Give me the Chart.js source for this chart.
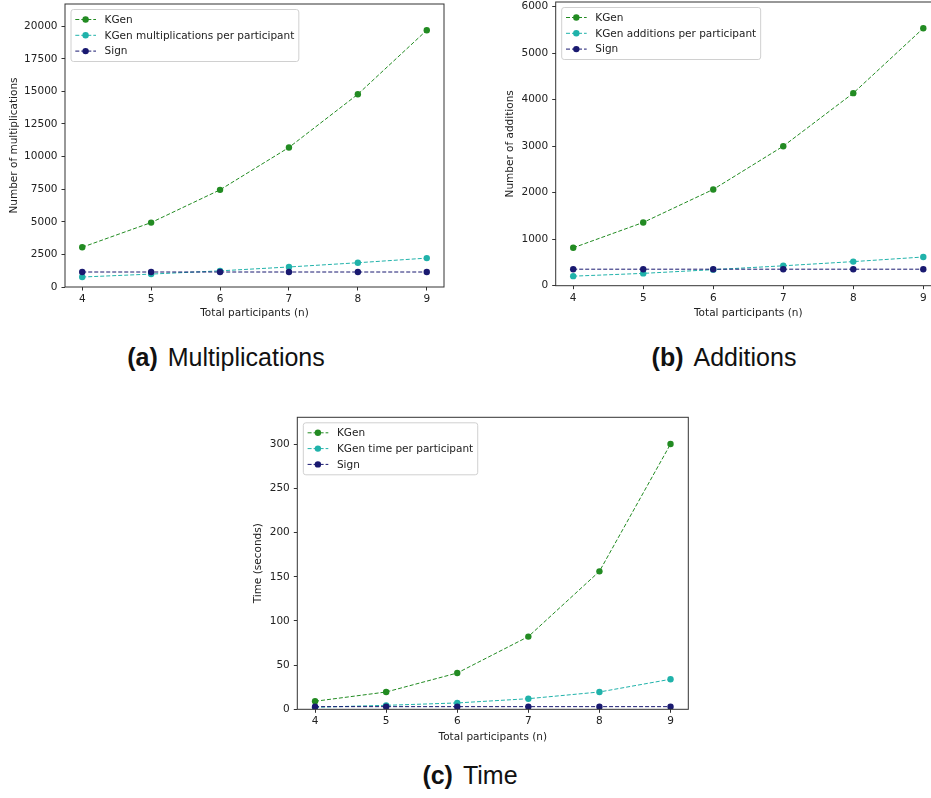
<!DOCTYPE html>
<html>
<head>
<meta charset="utf-8">
<script src="https://cdn.jsdelivr.net/npm/chart.js/dist/chart.umd.min.js"></script>
<style>
    html, body { margin: 0; padding: 0; background: #fff; overflow: hidden; width: 931px; height: 798px; }
    canvas { position: absolute; }
    .caption {
        position: absolute;
        width: 400px;
        text-align: center;
        font-family: "Liberation Sans", sans-serif;
        font-size: 25px;
        line-height: 25px;
        color: #111;
        white-space: nowrap;
    }
    .caption b { margin-right: 10px; }
</style>
</head>
<body>

<canvas id="chartMult" width="450" height="330" style="left:0px; top:0px;"></canvas>
<canvas id="chartAdd" width="455" height="331" style="left:490px; top:-2px;"></canvas>
<canvas id="chartTime" width="465" height="340" style="left:230px; top:410px;"></canvas>

<div class="caption" style="left:26px; top:345px;"><b>(a)</b>Multiplications</div>
<div class="caption" style="left:524px; top:345px;"><b>(b)</b>Additions</div>
<div class="caption" style="left:270px; top:763px;"><b>(c)</b>Time</div>

<script>
// Datos
const participants = [4, 5, 6, 7, 8, 9];

const multKGen = [3050, 4940, 7450, 10700, 14780, 19690];
const multPerParticipant = [765, 990, 1240, 1535, 1860, 2215];
const multSign = [1150, 1150, 1150, 1150, 1150, 1150];
const multTicks = [0, 2500, 5000, 7500, 10000, 12500, 15000, 17500, 20000];

const addKGen = [815, 1360, 2070, 3000, 4140, 5535];
const addPerParticipant = [205, 265, 345, 428, 518, 617];
const addSign = [355, 355, 355, 355, 355, 355];
const addTicks = [0, 1000, 2000, 3000, 4000, 5000, 6000];

const timeKGen = [9.1, 19.6, 41.1, 82.3, 156.2, 300.3];
const timePerParticipant = [2.3, 4.5, 7.2, 12.0, 19.6, 34.0];
const timeSign = [3.0, 3.0, 3.0, 3.0, 3.0, 3.0];
const timeTicks = [0, 50, 100, 150, 200, 250, 300];

const GREEN = '#228b22';
const TEAL = '#20b2aa';
const NAVY = '#191970';
const INK = '#222222';
const FONT_SIZE = 10.5;

Chart.defaults.font.family = "'DejaVu Sans', sans-serif";
Chart.defaults.font.size = FONT_SIZE;
Chart.defaults.color = INK;

function toPoints(values) {
    return participants.map((n, i) => ({ x: n, y: values[i] }));
}

function series(label, values, color, order) {
    return {
        label: label,
        data: toPoints(values),
        borderColor: color,
        backgroundColor: color,
        pointBackgroundColor: color,
        pointBorderWidth: 0,
        pointRadius: 3.2,
        borderWidth: 1,
        borderDash: [4, 2],
        tension: 0,
        order: order
    };
}

// Caja de ejes y leyenda estilo matplotlib
const frameAndLegend = {
    id: 'frameAndLegend',
    afterDraw(chart) {
        const ctx = chart.ctx;
        const a = chart.chartArea;
        ctx.save();
        ctx.strokeStyle = '#333';
        ctx.lineWidth = 1;
        ctx.setLineDash([]);
        ctx.strokeRect(a.left, a.top, a.right - a.left, a.bottom - a.top);

        // leyenda
        ctx.font = FONT_SIZE + "px 'DejaVu Sans'";
        const sets = chart.data.datasets;
        let tw = 0;
        sets.forEach(d => { tw = Math.max(tw, ctx.measureText(d.label).width); });
        const bx = a.left + 6, by = a.top + 5.5;
        const bw = 33.6 + tw + 4.5, bh = 52;
        ctx.beginPath();
        ctx.roundRect(bx, by, bw, bh, 2.5);
        ctx.fillStyle = 'rgba(255,255,255,0.8)';
        ctx.fill();
        ctx.strokeStyle = '#d0d0d0';
        ctx.stroke();
        sets.forEach((d, i) => {
            const y = by + 10 + i * 15.8;
            ctx.beginPath();
            ctx.setLineDash([4, 2]);
            ctx.strokeStyle = d.borderColor;
            ctx.lineWidth = 1;
            ctx.moveTo(bx + 4.3, y);
            ctx.lineTo(bx + 25, y);
            ctx.stroke();
            ctx.setLineDash([]);
            ctx.beginPath();
            ctx.arc(bx + 14.6, y, 3.2, 0, Math.PI * 2);
            ctx.fillStyle = d.borderColor;
            ctx.fill();
            ctx.fillStyle = INK;
            ctx.textBaseline = 'middle';
            ctx.textAlign = 'left';
            ctx.fillText(d.label, bx + 33.6, y + 0.5);
        });
        ctx.restore();
    }
};

function makeChart(id, sets, yTicks, yMax, yTitle, lay) {
    const ctx = document.getElementById(id).getContext('2d');
    return new Chart(ctx, {
        type: 'line',
        data: { datasets: sets },
        plugins: [frameAndLegend],
        options: {
            responsive: false,
            animation: false,
            layout: { padding: { left: 0, top: lay.padT, right: lay.padR, bottom: 0 } },
            plugins: {
                legend: { display: false },
                tooltip: { enabled: false }
            },
            scales: {
                x: {
                    type: 'linear',
                    min: 3.75,
                    max: 9.25,
                    afterBuildTicks: s => { s.ticks = participants.map(v => ({ value: v })); },
                    afterFit: s => { s.height = lay.hx; s.paddingLeft = 0; s.paddingRight = 0; },
                    border: { display: false },
                    grid: { drawOnChartArea: false, drawTicks: true, tickLength: 3.5, color: '#333', lineWidth: 1 },
                    ticks: { padding: 2.5, maxRotation: 0, callback: v => String(v), color: INK },
                    title: { display: true, text: 'Total participants (n)', color: INK, padding: { top: 0, bottom: lay.xtb } }
                },
                y: {
                    type: 'linear',
                    min: 0,
                    max: yMax,
                    afterBuildTicks: s => { s.ticks = yTicks.map(v => ({ value: v })); },
                    afterFit: s => { s.width = lay.wy; s.paddingTop = 0; s.paddingBottom = 0; },
                    border: { display: false },
                    grid: { drawOnChartArea: false, drawTicks: true, tickLength: 3.5, color: '#333', lineWidth: 1 },
                    ticks: { padding: 4, callback: v => String(v), color: INK },
                    title: { display: true, text: yTitle, color: INK, padding: { top: lay.ytt, bottom: 0 } }
                }
            }
        }
    });
}

makeChart('chartMult', [
    series('KGen', multKGen, GREEN, 3),
    series('KGen multiplications per participant', multPerParticipant, TEAL, 2),
    series('Sign', multSign, NAVY, 1)
], multTicks, 21700, 'Number of multiplications', { padT: 4, padR: 6, wy: 65, hx: 43, xtb: 10, ytt: 8 });

makeChart('chartAdd', [
    series('KGen', addKGen, GREEN, 3),
    series('KGen additions per participant', addPerParticipant, TEAL, 2),
    series('Sign', addSign, NAVY, 1)
], addTicks, 6100, 'Number of additions', { padT: 0.6, padR: 4.2, wy: 65.7, hx: 43.3, xtb: 9.7, ytt: 14 });

makeChart('chartTime', [
    series('KGen', timeKGen, GREEN, 3),
    series('KGen time per participant', timePerParticipant, TEAL, 2),
    series('Sign', timeSign, NAVY, 1)
], timeTicks, 330.6, 'Time (seconds)', { padT: 7.3, padR: 6.7, wy: 67.3, hx: 40.7, xtb: 6.3, ytt: 22.3 });
</script>
</body>
</html>
